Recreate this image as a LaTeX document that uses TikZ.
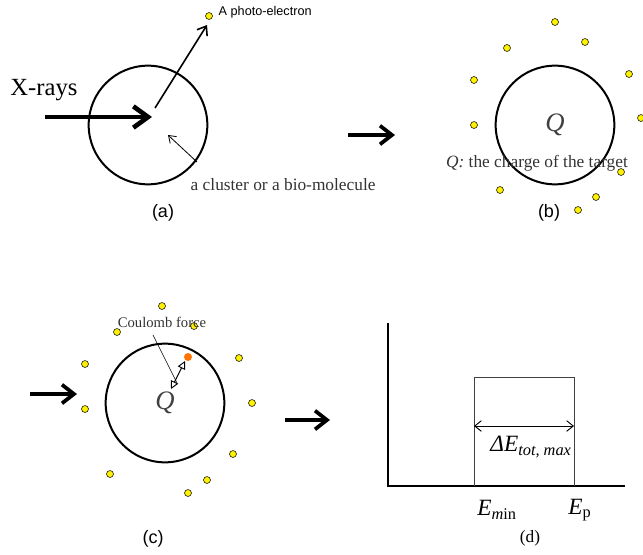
\documentclass[tikz,border=0pt]{standalone}
\usepackage{fontspec}
\setmainfont{Liberation Serif}
\setsansfont{Liberation Sans}
\usetikzlibrary{arrows.meta}

\begin{document}
\begin{tikzpicture}[x=0.75pt, y=-0.75pt,
  target/.style={circle, draw, line width=1.5pt, minimum size=89pt, inner sep=0pt, text=black!75, font=\fontsize{20}{20}\selectfont\itshape},
  elec/.style={circle, draw, line width=0.4pt, fill=yellow, inner sep=0pt, minimum size=5.2pt},
  note/.style={text=black!80, font=\fontsize{13}{13}\selectfont},
  tag/.style={font=\sffamily\fontsize{13.5}{14}\selectfont},
  axislab/.style={font=\fontsize{17.5}{18}\selectfont},
  beam/.style={line width=3.5pt, -{Straight Barb[length=11pt, width=16pt]}},
  step arrow/.style={line width=2.8pt, -{Straight Barb[length=9pt, width=14pt]}},
  thin/.style={line width=0.6pt, -{Straight Barb[length=5pt, width=7pt]}}
]
  \useasboundingbox (0,0) rectangle (643,554);

  % (a) photo-ionisation
  \node[target] (ca) at (148,125) {};
  \node[font=\fontsize{18.5}{19}\selectfont] (xray) at (44,90) {X-rays};
  \coordinate (xin) at (45,117);
  \coordinate (xhit) at (152,117);
  \draw[beam] (xin) -- (xhit);
  \node[elec] (pe) at (209,16) {};
  \node[anchor=west, font=\sffamily\fontsize{9.5}{10}\selectfont] (pelab) at (214,12) {A photo-electron};
  \coordinate (pstart) at (155,108);
  \draw[line width=1.2pt, -{Straight Barb[length=6pt, width=9pt]}] (pstart) -- (207,25);
  \node[note, anchor=west] (clab) at (186,185) {a cluster or a bio-molecule};
  \coordinate (cfrom) at (197,162);
  \coordinate (cto) at (168,135);
  \draw[thin] (cfrom) -- (cto);
  \node[tag] (la) at (163,213) {(a)};

  % (b) charged target
  \coordinate (abl) at (348,135);
  \coordinate (abr) at (395,135);
  \draw[step arrow] (abl) -- (abr);
  \node[target] (cb) at (555,125) {Q};
  \foreach \x/\y [count=\i] in {555/22, 585/42, 507/48, 629/74, 474/80, 641/118,
      474/125, 621/172, 500/190, 596/197, 578/210}
    \node[elec] (b\i) at (\x,\y) {};
  \node[note] (qlab) at (537,163) {\textit{Q:} the charge of the target};
  \node[tag] (lb) at (549,213) {(b)};

  % (c) Coulomb explosion
  \coordinate (cl) at (30,394);
  \coordinate (cr) at (77,394);
  \draw[step arrow] (cl) -- (cr);
  \node[target] (cc) at (165,403) {Q};
  \foreach \x/\y [count=\i] in {162/306, 117/332, 194/326, 85/364, 239/358, 85/409,
      252/403, 233/454, 110/474, 207/480, 188/493}
    \node[elec] (c\i) at (\x,\y) {};
  \node[circle, fill=orange!90!red, inner sep=0pt, minimum size=6pt] (ion) at (188,357) {};
  \node[note, font=\fontsize{11}{11}\selectfont] (flab) at (162,322) {Coulomb force};
  \coordinate (fa) at (171,389);
  \coordinate (fb) at (185,361);
  \draw[line width=0.5pt] (153,335) -- (177,383);
  \draw[line width=0.7pt, {Triangle[open, length=6pt, width=6pt]}-{Triangle[open, length=6pt, width=6pt]}] (fa) -- (fb);
  \node[tag] (lc) at (153,539) {(c)};

  % (d) energy spectrum
  \coordinate (cdl) at (285,420);
  \coordinate (cdr) at (330,420);
  \draw[step arrow] (cdl) -- (cdr);
  \coordinate (ytop) at (388,323);
  \coordinate (orig) at (388,486);
  \coordinate (xend) at (625,486);
  \draw[line width=2pt] (ytop) -- (orig) -- (xend);
  \coordinate (emin) at (474,486);
  \coordinate (ep) at (574,486);
  \draw[black!75, line width=0.6pt] (emin) -- (474,377) -- (574,377) -- (ep);
  \draw[line width=0.7pt, {Straight Barb[length=5pt, width=8pt]}-{Straight Barb[length=5pt, width=8pt]}] (474,426) -- (574,426);
  \node[axislab] (dE) at (531,447) {\textit{ΔE}\textsubscript{\itshape tot, max}};
  \node[axislab] (lmin) at (497,510) {\textit{E}\textsubscript{\textit{m}in}};
  \node[axislab] (lp) at (580,510) {\textit{E}\textsubscript{p}};
  \node[font=\fontsize{13}{13}\selectfont] (ld) at (530,538) {(d)};
\end{tikzpicture}
\end{document}
